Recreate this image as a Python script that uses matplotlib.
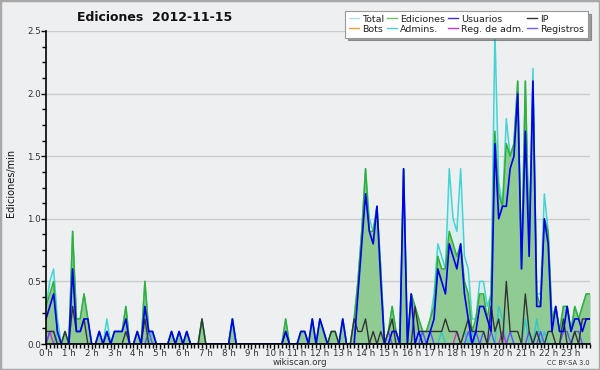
import matplotlib
matplotlib.use("Agg")
import matplotlib.pyplot as plt
from matplotlib.ticker import MultipleLocator, FixedLocator, FormatStrFormatter
from matplotlib.patches import Rectangle
from matplotlib.lines import Line2D
import numpy as np

# 10-minute slots, 144 per day
hour_labels = [f"{h} h" for h in range(24)]

ediciones = [
    0.3, 0.4, 0.5, 0.1, 0, 0.1, 0, 0.9, 0.2, 0.2, 0.4, 0.2, 0, 0, 0.1, 0, 0.1, 0, 0.1, 0.1, 0.1, 0.3, 0, 0,
    0.1, 0, 0.5, 0.1, 0.1, 0, 0, 0, 0, 0.1, 0, 0.1, 0, 0.1, 0, 0, 0, 0.2, 0, 0, 0, 0, 0, 0,
    0, 0.2, 0, 0, 0, 0, 0, 0, 0, 0, 0, 0, 0, 0, 0, 0.2, 0, 0, 0, 0.1, 0.1, 0, 0.2, 0,
    0.2, 0.1, 0, 0.1, 0.1, 0, 0.2, 0, 0, 0.2, 0.5, 0.9, 1.4, 0.9, 0.9, 1.1, 0.6, 0, 0.1, 0.3, 0.1, 0, 1.4, 0,
    0.4, 0.3, 0.2, 0.1, 0.1, 0.2, 0.3, 0.7, 0.6, 0.6, 0.9, 0.8, 0.7, 0.8, 0.5, 0.4, 0.1, 0.2, 0.4, 0.4, 0.2, 0.4, 1.7, 1.2,
    1.1, 1.6, 1.5, 1.6, 2.1, 0.6, 2.1, 0.8, 2.1, 0.4, 0.3, 1.0, 0.9, 0.2, 0.3, 0.1, 0.3, 0.3, 0.1, 0.3, 0.2, 0.3, 0.4, 0.4,
]
total = [
    0.3, 0.5, 0.6, 0.2, 0, 0.1, 0, 0.9, 0.2, 0.2, 0.4, 0.2, 0, 0, 0.1, 0, 0.2, 0, 0.1, 0.1, 0.1, 0.3, 0, 0,
    0.1, 0, 0.5, 0.1, 0.1, 0, 0, 0, 0, 0.1, 0, 0.1, 0, 0.1, 0, 0, 0, 0.2, 0, 0, 0, 0, 0, 0,
    0, 0.2, 0, 0, 0, 0, 0, 0, 0, 0, 0, 0, 0, 0, 0, 0.2, 0, 0, 0, 0.1, 0.1, 0, 0.2, 0,
    0.2, 0.1, 0, 0.1, 0.1, 0, 0.2, 0, 0, 0.2, 0.5, 0.9, 1.4, 1.0, 0.9, 1.1, 0.6, 0, 0.1, 0.3, 0.1, 0, 1.4, 0,
    0.4, 0.3, 0.2, 0.1, 0.1, 0.2, 0.4, 0.8, 0.7, 0.6, 1.4, 1.0, 0.9, 1.4, 0.7, 0.6, 0.2, 0.2, 0.5, 0.5, 0.3, 0.4, 2.5, 1.3,
    1.1, 1.8, 1.5, 1.6, 2.1, 0.6, 2.1, 0.8, 2.2, 0.4, 0.4, 1.2, 0.9, 0.2, 0.3, 0.1, 0.3, 0.3, 0.1, 0.3, 0.2, 0.3, 0.4, 0.4,
]
usuarios = [
    0.2, 0.3, 0.4, 0.1, 0, 0, 0, 0.6, 0.1, 0.1, 0.2, 0.2, 0, 0, 0.1, 0, 0.1, 0, 0.1, 0.1, 0.1, 0.2, 0, 0,
    0.1, 0, 0.3, 0.1, 0.1, 0, 0, 0, 0, 0.1, 0, 0.1, 0, 0.1, 0, 0, 0, 0, 0, 0, 0, 0, 0, 0,
    0, 0.2, 0, 0, 0, 0, 0, 0, 0, 0, 0, 0, 0, 0, 0, 0.1, 0, 0, 0, 0.1, 0.1, 0, 0.2, 0,
    0.2, 0.1, 0, 0, 0, 0, 0.2, 0, 0, 0, 0.4, 0.8, 1.2, 0.9, 0.8, 1.1, 0.5, 0, 0, 0.1, 0.1, 0, 1.4, 0,
    0.4, 0, 0.1, 0, 0, 0.1, 0.2, 0.6, 0.5, 0.4, 0.8, 0.7, 0.6, 0.8, 0.4, 0.2, 0, 0.1, 0.3, 0.3, 0.2, 0.1, 1.6, 1.0,
    1.1, 1.1, 1.4, 1.5, 2.0, 0.6, 1.7, 0.7, 2.1, 0.3, 0.3, 1.0, 0.8, 0.1, 0.3, 0.1, 0.1, 0.3, 0.1, 0.2, 0.2, 0.1, 0.2, 0.2,
]
ip = [
    0.1, 0.1, 0.1, 0, 0, 0.1, 0, 0.3, 0.1, 0.1, 0.2, 0, 0, 0, 0, 0, 0, 0, 0, 0, 0, 0.1, 0, 0,
    0, 0, 0.2, 0, 0, 0, 0, 0, 0, 0, 0, 0, 0, 0, 0, 0, 0, 0.2, 0, 0, 0, 0, 0, 0,
    0, 0, 0, 0, 0, 0, 0, 0, 0, 0, 0, 0, 0, 0, 0, 0.1, 0, 0, 0, 0, 0, 0, 0, 0,
    0, 0, 0, 0.1, 0.1, 0, 0, 0, 0, 0.2, 0.1, 0.1, 0.2, 0, 0.1, 0, 0.1, 0, 0.1, 0.2, 0, 0, 0, 0,
    0, 0.3, 0.1, 0.1, 0.1, 0.1, 0.1, 0.1, 0.1, 0.2, 0.1, 0.1, 0.1, 0, 0.1, 0.2, 0.1, 0.1, 0.1, 0.1, 0, 0.3, 0.1, 0.2,
    0, 0.5, 0.1, 0.1, 0.1, 0, 0.4, 0.1, 0, 0.1, 0, 0, 0.1, 0.1, 0, 0, 0.2, 0, 0, 0.1, 0, 0.2, 0.2, 0.2,
]
bots = [0.0] * 144
admins = [0.0] * 144
for k, v in {3: 0.1, 28: 0.1, 49: 0.2, 104: 0.1, 110: 0.1, 112: 0.1,
             119: 0.3, 120: 0.2, 126: 0.2, 129: 0.2, 131: 0.1}.items():
    admins[k] = v
reg_adm = [0.0] * 144
for k, v in {1: 0.1, 108: 0.1, 120: 0.1}.items():
    reg_adm[k] = v
registros = [0.0] * 144
for k, v in {1: 0.1, 2: 0.1, 27: 0.1, 90: 0.1, 99: 0.1, 101: 0.1, 111: 0.1,
             113: 0.1, 115: 0.1, 117: 0.1, 122: 0.1, 127: 0.1, 130: 0.1,
             136: 0.1, 137: 0.1, 139: 0.1, 140: 0.1}.items():
    registros[k] = v

BG = "#eeeff1"
fig = plt.figure(figsize=(6, 3.7), dpi=100, facecolor=BG)
fig.patches.append(Rectangle((0, 0), 1, 1, transform=fig.transFigure,
                             fill=False, edgecolor="#a8a8a8", linewidth=2.5))
ax = fig.add_axes([46 / 600, 26 / 370, 544 / 600, 313 / 370])
ax.set_facecolor(BG)

x = np.arange(144)
ax.fill_between(x, total, color="#d8f0f0", alpha=0.8, lw=0, zorder=1)
ax.fill_between(x, ediciones, color="#8fcb93", lw=0, zorder=2)
ax.plot(x, total, color="#44d4d4", lw=1.1, zorder=3)
ax.plot(x, ediciones, color="#33b033", lw=1.1, zorder=4)
ax.plot(x, bots, color="#ff9933", lw=1.0, zorder=4)
ax.plot(x, admins, color="#30c8cc", lw=1.0, zorder=5)
ax.plot(x, reg_adm, color="#cc33cc", lw=1.0, zorder=5)
ax.plot(x, registros, color="#5555ff", lw=1.0, zorder=5)
ax.plot(x, ip, color="#333333", lw=1.0, zorder=6)
ax.plot(x, usuarios, color="#0000ee", lw=1.2, zorder=7)

ax.set_xlim(0, 143)
ax.set_ylim(0, 2.5)
for s in ["top", "right"]:
    ax.spines[s].set_visible(False)
for s in ["left", "bottom"]:
    ax.spines[s].set_linewidth(1.2)
    ax.spines[s].set_color("black")
    ax.spines[s].set_zorder(8)

ax.yaxis.set_major_locator(MultipleLocator(0.5))
ax.yaxis.set_minor_locator(MultipleLocator(0.125))
ax.yaxis.set_major_formatter(FormatStrFormatter("%.1f"))
ax.xaxis.set_major_locator(FixedLocator(np.arange(0, 144, 6)))
ax.xaxis.set_minor_locator(MultipleLocator(1))
ax.set_xticklabels(hour_labels)
ax.tick_params(axis="both", which="major", labelsize=6.3, colors="black",
               labelcolor="#333333", length=3.5, width=1, pad=0)
ax.tick_params(axis="both", which="minor", length=3, width=1)
ax.grid(axis="y", which="major", color="#cccccc", lw=1)
ax.set_axisbelow(True)

fig.text(0.258, 0.953, "Ediciones  2012-11-15", ha="center", va="center",
         fontsize=9, fontweight="bold", color="#111111")
fig.text(0.018, 0.505, "Ediciones/min", rotation=90, ha="center", va="center",
         fontsize=7, color="#111111")
fig.text(0.5, 0.019, "wikiscan.org", ha="center", va="center", fontsize=6.3, color="#333333")
fig.text(0.982, 0.019, "CC BY-SA 3.0", ha="right", va="center", fontsize=4.8, color="#333333")

names = ["Total", "Bots", "Ediciones", "Admins.", "Usuarios", "Reg. de adm.", "IP", "Registros"]
cols = ["#aae4e4", "#ff9933", "#66c866", "#44d0d8", "#3333cc", "#cc33cc", "#333333", "#6666ff"]
handles = [Line2D([], [], color=c, lw=1) for c in cols]
leg = fig.legend(handles, names, ncol=4, loc="upper right",
                 bbox_to_anchor=(588 / 600, 1 - 11 / 370), fontsize=6.8,
                 frameon=True, fancybox=False, shadow=True, handlelength=1.0,
                 handletextpad=0.35, columnspacing=0.35, labelspacing=0.1,
                 borderpad=0.4, borderaxespad=0)
leg.get_frame().set_edgecolor("#999999")
leg.get_frame().set_linewidth(0.8)
for t in leg.get_texts():
    t.set_color("#222222")

fig.savefig("out.png", dpi=100, facecolor=BG)
